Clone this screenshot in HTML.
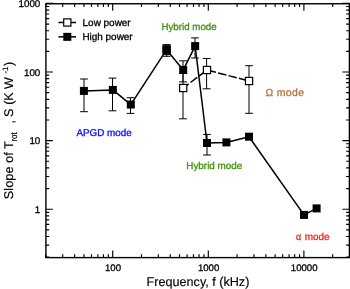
<!DOCTYPE html>
<html><head><meta charset="utf-8"><title>chart</title>
<style>html,body{margin:0;padding:0;background:#fff;}svg{display:block;will-change:transform;}text{font-family:"Liberation Sans",sans-serif;stroke-width:0.3px;text-rendering:geometricPrecision;}</style>
</head><body>
<svg width="350" height="289" viewBox="0 0 350 289">
<rect x="0" y="0" width="350" height="289" fill="#ffffff"/>
<path d="M45.88 257.60v-3.30M45.88 3.75v3.30M62.71 257.60v-3.30M62.71 3.75v3.30M74.66 257.60v-3.30M74.66 3.75v3.30M83.92 257.60v-3.30M83.92 3.75v3.30M91.49 257.60v-3.30M91.49 3.75v3.30M97.89 257.60v-3.30M97.89 3.75v3.30M103.44 257.60v-3.30M103.44 3.75v3.30M108.33 257.60v-3.30M108.33 3.75v3.30M112.70 257.60v-7.00M112.70 3.75v7.00M141.48 257.60v-3.30M141.48 3.75v3.30M158.31 257.60v-3.30M158.31 3.75v3.30M170.26 257.60v-3.30M170.26 3.75v3.30M179.52 257.60v-3.30M179.52 3.75v3.30M187.09 257.60v-3.30M187.09 3.75v3.30M193.49 257.60v-3.30M193.49 3.75v3.30M199.04 257.60v-3.30M199.04 3.75v3.30M203.93 257.60v-3.30M203.93 3.75v3.30M208.30 257.60v-7.00M208.30 3.75v7.00M237.08 257.60v-3.30M237.08 3.75v3.30M253.91 257.60v-3.30M253.91 3.75v3.30M265.86 257.60v-3.30M265.86 3.75v3.30M275.12 257.60v-3.30M275.12 3.75v3.30M282.69 257.60v-3.30M282.69 3.75v3.30M289.09 257.60v-3.30M289.09 3.75v3.30M294.64 257.60v-3.30M294.64 3.75v3.30M299.53 257.60v-3.30M299.53 3.75v3.30M303.90 257.60v-7.00M303.90 3.75v7.00M332.68 257.60v-3.30M332.68 3.75v3.30M45.90 257.15h3.30M349.40 257.15h-3.30M45.90 245.07h3.30M349.40 245.07h-3.30M45.90 236.50h3.30M349.40 236.50h-3.30M45.90 229.85h3.30M349.40 229.85h-3.30M45.90 224.42h3.30M349.40 224.42h-3.30M45.90 219.83h3.30M349.40 219.83h-3.30M45.90 215.85h3.30M349.40 215.85h-3.30M45.90 212.34h3.30M349.40 212.34h-3.30M45.90 209.20h7.00M349.40 209.20h-7.00M45.90 188.55h3.30M349.40 188.55h-3.30M45.90 176.47h3.30M349.40 176.47h-3.30M45.90 167.90h3.30M349.40 167.90h-3.30M45.90 161.25h3.30M349.40 161.25h-3.30M45.90 155.82h3.30M349.40 155.82h-3.30M45.90 151.23h3.30M349.40 151.23h-3.30M45.90 147.25h3.30M349.40 147.25h-3.30M45.90 143.74h3.30M349.40 143.74h-3.30M45.90 140.60h7.00M349.40 140.60h-7.00M45.90 119.95h3.30M349.40 119.95h-3.30M45.90 107.87h3.30M349.40 107.87h-3.30M45.90 99.30h3.30M349.40 99.30h-3.30M45.90 92.65h3.30M349.40 92.65h-3.30M45.90 87.22h3.30M349.40 87.22h-3.30M45.90 82.63h3.30M349.40 82.63h-3.30M45.90 78.65h3.30M349.40 78.65h-3.30M45.90 75.14h3.30M349.40 75.14h-3.30M45.90 72.00h7.00M349.40 72.00h-7.00M45.90 51.35h3.30M349.40 51.35h-3.30M45.90 39.27h3.30M349.40 39.27h-3.30M45.90 30.70h3.30M349.40 30.70h-3.30M45.90 24.05h3.30M349.40 24.05h-3.30M45.90 18.62h3.30M349.40 18.62h-3.30M45.90 14.03h3.30M349.40 14.03h-3.30M45.90 10.05h3.30M349.40 10.05h-3.30M45.90 6.54h3.30M349.40 6.54h-3.30M45.90 3.40h7.00M349.40 3.40h-7.00" stroke="#000" stroke-width="1.15" fill="none"/>
<rect x="45.9" y="3.75" width="303.50" height="253.85" fill="none" stroke="#000" stroke-width="1.4"/>
<text x="113.00" y="270.85" font-size="9.6" text-anchor="middle" fill="#000" stroke="#000">100</text>
<text x="208.60" y="270.85" font-size="9.6" text-anchor="middle" fill="#000" stroke="#000">1000</text>
<text x="304.20" y="270.85" font-size="9.6" text-anchor="middle" fill="#000" stroke="#000">10000</text>
<text x="40.25" y="6.70" font-size="9.75" text-anchor="end" fill="#000" stroke="#000">1000</text>
<text x="40.25" y="75.80" font-size="9.75" text-anchor="end" fill="#000" stroke="#000">100</text>
<text x="40.25" y="144.20" font-size="9.75" text-anchor="end" fill="#000" stroke="#000">10</text>
<text x="40.25" y="212.60" font-size="9.75" text-anchor="end" fill="#000" stroke="#000">1</text>
<text x="198.0" y="286.1" font-size="12.62" text-anchor="middle" fill="#000" stroke="#000" style="stroke-width:0.15px">Frequency, f (kHz)</text>
<g transform="rotate(-90)" fill="#000" stroke="#000">
<text x="-199.2" y="13.2" font-size="12.6" textLength="58.0" lengthAdjust="spacingAndGlyphs" style="stroke-width:0.15px">Slope of T</text>
<text x="-141.6" y="17.0" font-size="9.0" textLength="9.3" lengthAdjust="spacingAndGlyphs" style="stroke-width:0.15px">rot</text>
<text x="-123.6" y="13.6" font-size="12.6" style="stroke-width:0.15px">,</text>
<text x="-116.9" y="13.2" font-size="12.6" style="stroke-width:0.15px">S</text>
<text x="-104.8" y="13.2" font-size="12.6" style="stroke-width:0.15px">(</text>
<text x="-100.7" y="13.2" font-size="12.6" style="stroke-width:0.15px">K</text>
<text x="-88.9" y="13.2" font-size="12.6" style="stroke-width:0.15px">W</text>
<text x="-73.6" y="8.3" font-size="8.0" style="stroke-width:0.15px">-1</text>
<text x="-65.9" y="13.2" font-size="12.6" style="stroke-width:0.15px">)</text>
</g>
<path d="M166.60 44.80V56.30M162.70 44.80h7.80M162.70 56.30h7.80" stroke="#000" stroke-width="1.0" fill="none"/>
<path d="M183.00 73.50V118.80M179.10 73.50h7.80M179.10 118.80h7.80" stroke="#000" stroke-width="1.0" fill="none"/>
<path d="M206.60 58.50V88.80M202.70 58.50h7.80M202.70 88.80h7.80" stroke="#000" stroke-width="1.0" fill="none"/>
<path d="M249.00 65.70V113.30M245.10 65.70h7.80M245.10 113.30h7.80" stroke="#000" stroke-width="1.0" fill="none"/>
<polyline points="183.20,88.00 207.00,70.00 249.05,81.00" fill="none" stroke="#000" stroke-width="1.5" stroke-dasharray="8.5 2.25" stroke-dashoffset="1.67"/>
<rect x="163.00" y="46.10" width="7.2" height="7.2" fill="#fff" stroke="#000" stroke-width="1.2"/>
<rect x="179.60" y="84.40" width="7.2" height="7.2" fill="#fff" stroke="#000" stroke-width="1.2"/>
<rect x="203.40" y="66.40" width="7.2" height="7.2" fill="#fff" stroke="#000" stroke-width="1.2"/>
<rect x="245.45" y="77.40" width="7.2" height="7.2" fill="#fff" stroke="#000" stroke-width="1.2"/>
<path d="M84.00 79.00V111.70M80.10 79.00h7.80M80.10 111.70h7.80" stroke="#000" stroke-width="1.0" fill="none"/>
<path d="M112.50 78.10V110.80M108.60 78.10h7.80M108.60 110.80h7.80" stroke="#000" stroke-width="1.0" fill="none"/>
<path d="M130.50 97.70V113.40M126.60 97.70h7.80M126.60 113.40h7.80" stroke="#000" stroke-width="1.0" fill="none"/>
<path d="M166.60 44.90V54.60M162.70 44.90h7.80M162.70 54.60h7.80" stroke="#000" stroke-width="1.0" fill="none"/>
<path d="M183.00 60.85V81.85M179.10 60.85h7.80M179.10 81.85h7.80" stroke="#000" stroke-width="1.0" fill="none"/>
<path d="M195.00 37.90V58.00M191.10 37.90h7.80M191.10 58.00h7.80" stroke="#000" stroke-width="1.0" fill="none"/>
<path d="M207.00 134.40V155.00M203.10 134.40h7.80M203.10 155.00h7.80" stroke="#000" stroke-width="1.0" fill="none"/>
<polyline points="83.90,90.90 112.85,89.90 130.80,104.55 166.60,49.65 183.20,69.90 195.15,46.10 207.00,143.00 226.40,142.40 249.00,136.70 304.00,214.90 316.60,208.40" fill="none" stroke="#000" stroke-width="1.5" stroke-linejoin="round"/>
<rect x="79.90" y="86.90" width="8.0" height="8.0" fill="#000"/>
<rect x="108.85" y="85.90" width="8.0" height="8.0" fill="#000"/>
<rect x="126.80" y="100.55" width="8.0" height="8.0" fill="#000"/>
<rect x="162.60" y="45.65" width="8.0" height="8.0" fill="#000"/>
<rect x="179.20" y="65.90" width="8.0" height="8.0" fill="#000"/>
<rect x="191.15" y="42.10" width="8.0" height="8.0" fill="#000"/>
<rect x="203.00" y="139.00" width="8.0" height="8.0" fill="#000"/>
<rect x="222.40" y="138.40" width="8.0" height="8.0" fill="#000"/>
<rect x="245.00" y="132.70" width="8.0" height="8.0" fill="#000"/>
<rect x="300.00" y="210.90" width="8.0" height="8.0" fill="#000"/>
<rect x="312.60" y="204.40" width="8.0" height="8.0" fill="#000"/>
<path d="M58.4 22.5H76.0" stroke="#000" stroke-width="1.5" stroke-dasharray="5.3 7 5.3"/>
<rect x="63.70" y="18.90" width="7.2" height="7.2" fill="#fff" stroke="#000" stroke-width="1.2"/>
<path d="M58.4 36.85H76.0" stroke="#000" stroke-width="1.5"/>
<rect x="63.30" y="32.85" width="8.0" height="8.0" fill="#000"/>
<text x="82.6" y="26.0" font-size="9.95" fill="#000" stroke="#000">Low power</text>
<text x="82.4" y="40.1" font-size="9.95" fill="#000" stroke="#000">High power</text>
<text x="161.4" y="29.6" font-size="9.75" fill="#42900e" stroke="#42900e">Hybrid mode</text>
<text x="186.3" y="168.9" font-size="9.9" fill="#42900e" stroke="#42900e">Hybrid mode</text>
<text x="76.4" y="135.6" font-size="9.9" fill="#0a0aff" stroke="#0a0aff">APGD mode</text>
<text x="265.5" y="95.8" font-size="10.3" fill="#b0753a" stroke="#b0753a">Ω</text>
<text x="276.7" y="95.8" font-size="10.5" letter-spacing="0.38" fill="#b0753a" stroke="#b0753a">mode</text>
<text x="295.9" y="239.6" font-size="9.95" textLength="5.2" lengthAdjust="spacingAndGlyphs" fill="#ff1a1a" stroke="#ff1a1a">α</text>
<text x="304.7" y="239.6" font-size="9.95" fill="#ff1a1a" stroke="#ff1a1a">mode</text>
</svg></body></html>
